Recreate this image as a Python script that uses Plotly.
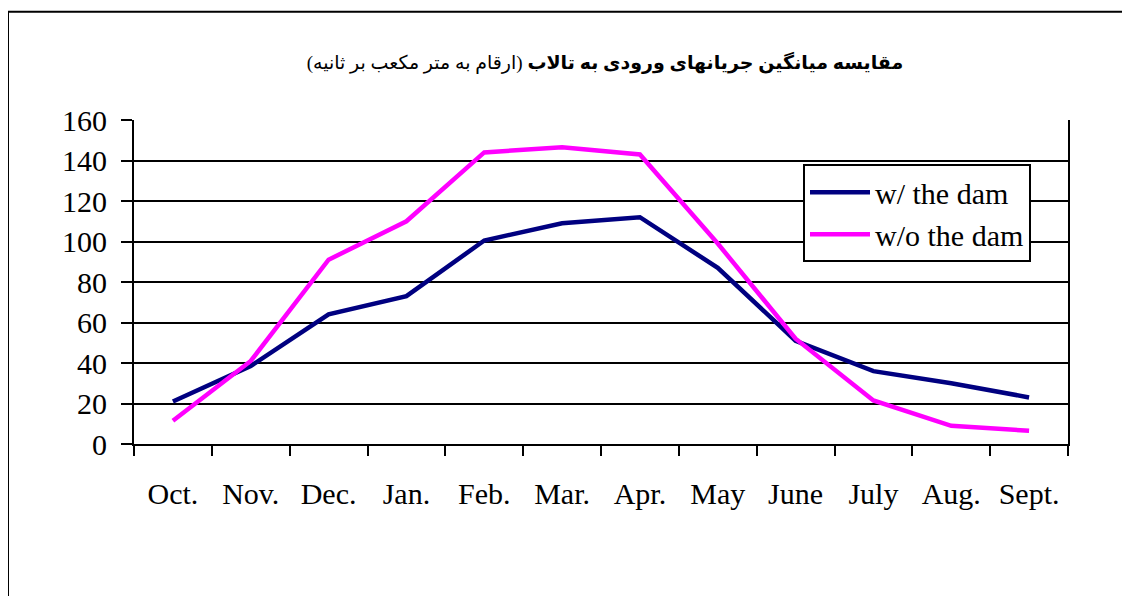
import plotly.graph_objects as go

months = ["Oct.", "Nov.", "Dec.", "Jan.", "Feb.", "Mar.", "Apr.", "May", "June", "July", "Aug.", "Sept."]
with_dam = [21, 38.5, 64, 73, 100.5, 109, 112, 87, 51, 36, 30, 23]
without_dam = [11.5, 41, 91, 110, 144, 146.5, 143, 99, 52, 21.5, 9, 6.5]
y_ticks = [0, 20, 40, 60, 80, 100, 120, 140, 160]

title_bold = "مقایسه میانگین جریانهای ورودی به تالاب"
title_rest = "(ارقام به متر مکعب بر ثانیه)"

OFF = 8  # page body margin
W, H = 1130 - OFF, 596 - OFF
L, R, T, B = 134 - OFF, 1068 - OFF, 119.5 - OFF, 444.5 - OFF

fig = go.Figure()
fig.add_trace(go.Scatter(x=months, y=with_dam, mode="lines", name="w/ the dam",
                         line=dict(color="#000080", width=4.5)))
fig.add_trace(go.Scatter(x=months, y=without_dam, mode="lines", name="w/o the dam",
                         line=dict(color="#FF00FF", width=4.5)))

def px(x):
    return (x - OFF - L) / (R - L)

def py(y):
    return (B - (y - OFF)) / (B - T)

tick_font = dict(family="Liberation Serif", size=30, color="black")

fig.update_layout(
    width=W, height=H,
    margin=dict(l=L, r=W - R, t=T, b=H - B, pad=0),
    paper_bgcolor="white", plot_bgcolor="white",
    font=dict(family="Liberation Serif", color="black", size=30),
    title=dict(
        text="\u202b<b>" + title_bold + "</b> " + title_rest + "\u202c",
        x=(605 - OFF) / W, xanchor="center", y=1 - (62 - OFF) / H, yanchor="middle",
        font=dict(family="Liberation Serif, DejaVu Sans", size=19, color="black"),
    ),
    showlegend=True,
    legend=dict(
        x=px(803), y=py(164), xanchor="left", yanchor="top",
        bgcolor="white", bordercolor="black", borderwidth=2,
        font=dict(family="Liberation Serif", size=30, color="black"),
        tracegroupgap=0, itemwidth=60,
    ),
    xaxis=dict(
        type="category", showgrid=False, showline=True, linecolor="black", linewidth=2,
        ticks="outside", tickson="boundaries", ticklen=10, tickwidth=2, tickcolor="black",
        ticklabelstandoff=22, range=[-0.5, 11.5], zeroline=False, tickfont=tick_font,
    ),
    yaxis=dict(
        range=[0, 160], tickvals=y_ticks, showgrid=True, gridcolor="black", gridwidth=2,
        showline=True, linecolor="black", linewidth=2, mirror=True,
        ticks="outside", ticklen=11, tickwidth=2, tickcolor="black",
        ticklabelstandoff=8, zeroline=False, tickfont=tick_font,
    ),
)

fig.add_shape(type="rect", xref="paper", yref="paper",
              x0=px(8), x1=px(1140), y0=py(610), y1=py(11),
              line=dict(color="black", width=2), fillcolor="rgba(0,0,0,0)", layer="below")

fig.write_html("out.html")
